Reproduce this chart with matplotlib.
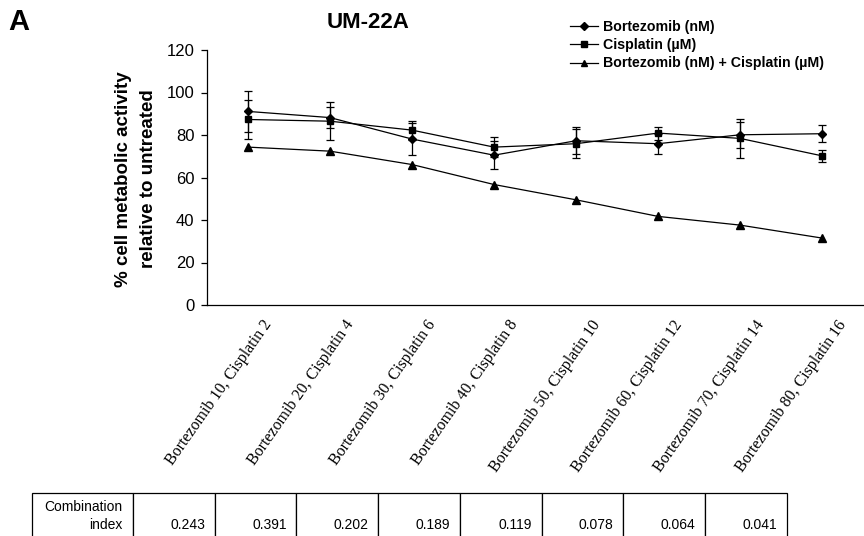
import matplotlib
matplotlib.use("Agg")
import matplotlib.pyplot as plt
import matplotlib.transforms as mtransforms

# 数据
labels = ["Bortezomib 10, Cisplatin 2", "Bortezomib 20, Cisplatin 4",
          "Bortezomib 30, Cisplatin 6", "Bortezomib 40, Cisplatin 8",
          "Bortezomib 50, Cisplatin 10", "Bortezomib 60, Cisplatin 12",
          "Bortezomib 70, Cisplatin 14", "Bortezomib 80, Cisplatin 16"]
bort = [91.1, 88.2, 78.1, 70.5, 77.3, 75.9, 80.1, 80.6]
bort_err = [9.7, 5.0, 7.6, 6.5, 6.4, 4.7, 6.0, 4.0]
cis = [87.3, 86.5, 82.3, 74.3, 75.9, 80.9, 78.4, 70.2]
cis_err = [9.3, 9.0, 4.5, 4.7, 6.8, 3.1, 9.2, 2.8]
combo = [74.3, 72.4, 66.1, 56.7, 49.5, 41.7, 37.6, 31.5]
ci_values = ["0.243", "0.391", "0.202", "0.189", "0.119", "0.078", "0.064", "0.041"]

plt.rcParams['font.family'] = ['Liberation Sans', 'DejaVu Sans']

W, H = 864, 536
fig = plt.figure(figsize=(8.64, 5.36), dpi=100)
ax = fig.add_axes([207 / W, (H - 305) / H, 656 / W, 255 / H])

x = list(range(len(labels)))
h1 = ax.errorbar(x, bort, yerr=bort_err, color='black', lw=0.9, marker='D', ms=4.5,
                 capsize=3, elinewidth=0.9, capthick=0.9, label='Bortezomib (nM)')
h2 = ax.errorbar(x, cis, yerr=cis_err, color='black', lw=0.9, marker='s', ms=5,
                 capsize=3, elinewidth=0.9, capthick=0.9, label='Cisplatin (µM)')
h3, = ax.plot(x, combo, color='black', lw=0.9, marker='^', ms=6,
              label='Bortezomib (nM) + Cisplatin (µM)')

ax.set_xlim(-0.5, 7.5)
ax.set_ylim(0, 120)
ax.set_yticks(range(0, 121, 20))
ax.tick_params(axis='y', direction='out', length=4, width=0.9, labelsize=12, pad=5)
ax.tick_params(axis='x', length=0, pad=0)
for s in ['top', 'right']:
    ax.spines[s].set_visible(False)
for s in ['left', 'bottom']:
    ax.spines[s].set_linewidth(0.9)

ax.set_xticks(x)
ax.set_xticklabels(labels, rotation=55, ha='right', va='center',
                   rotation_mode='anchor', family=['Liberation Serif'], fontsize=11.5)
offset = mtransforms.ScaledTranslation(21 / 100, -17 / 100, fig.dpi_scale_trans)
for lbl in ax.get_xticklabels():
    lbl.set_transform(lbl.get_transform() + offset)

fig.text(136 / W, 1 - 179 / H, "% cell metabolic activity\nrelative to untreated",
         rotation=90, ha='center', va='center', fontsize=13.5, fontweight='bold',
         linespacing=1.6)
fig.text(368 / W, 1 - 22 / H, "UM-22A", ha='center', va='center',
         fontsize=16, fontweight='bold')
fig.text(8 / W, 1 - 22 / H, "A", ha='left', va='center', fontsize=21, fontweight='bold')

# 图例只显示线和标记，不显示误差线
fig.legend(handles=[h1[0], h2[0], h3],
           labels=['Bortezomib (nM)', 'Cisplatin (µM)', 'Bortezomib (nM) + Cisplatin (µM)'],
           loc='upper left', bbox_to_anchor=(570 / W, 1 - 20 / H),
           frameon=False, prop={'weight': 'bold', 'size': 10.2}, handlelength=2.0,
           handletextpad=0.3, labelspacing=0.3, borderpad=0, borderaxespad=0,
           markerscale=0.8)

# 表格
cell_text = [["Combination\nindex"] + ["\n" + v for v in ci_values]]
col_w = [101] + [81.8] * 8
left, right = 32, 787
top, bottom = 493, 539
tbl = ax.table(cellText=cell_text, cellLoc='right',
               colWidths=[c / sum(col_w) for c in col_w],
               bbox=[(left - 207) / 656, (305 - bottom) / 255,
                     (right - left) / 656, (bottom - top) / 255])
tbl.auto_set_font_size(False)
tbl.set_fontsize(10)
for (r, c), cell in tbl.get_celld().items():
    cell.set_linewidth(0.9)
    cell.set_edgecolor('black')
    cell.PAD = 0.12 if c > 0 else 0.1
    cell.get_text().set_linespacing(1.3)
tbl.set_clip_on(False)

fig.savefig("out.png", dpi=100)
